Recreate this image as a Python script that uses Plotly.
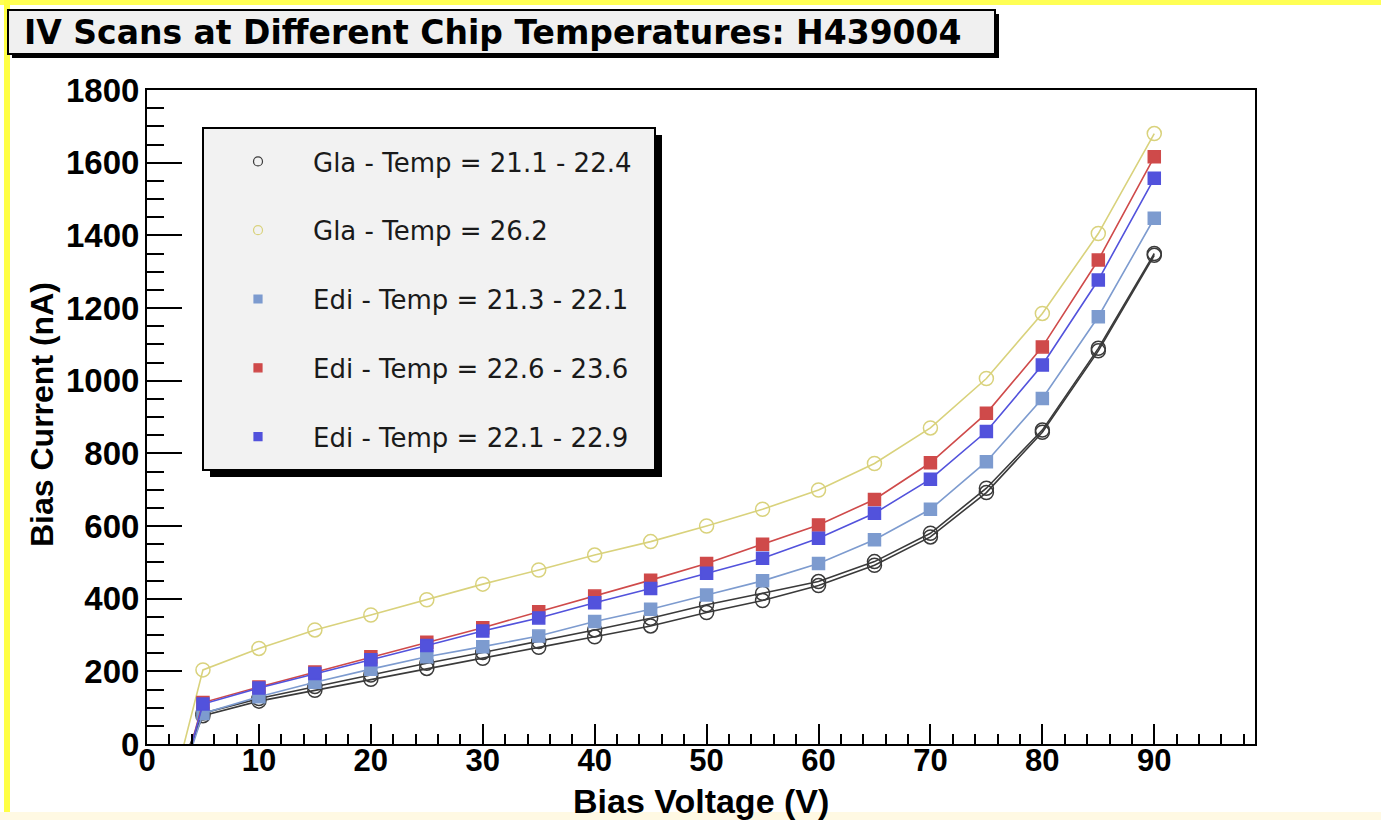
import plotly.graph_objects as go

# ---------------- data ----------------
voltage = [0, 5, 10, 15, 20, 25, 30, 35, 40, 45, 50, 55, 60, 65, 70, 75, 80, 85, 90]

gla_21_lo = [-300, 78, 118, 148, 178, 208, 236, 266, 295, 325, 362, 395, 436, 492, 570, 692, 858, 1082, 1345]
gla_21_hi = [-290, 85, 125, 158, 190, 222, 252, 282, 314, 346, 383, 415, 447, 502, 580, 704, 864, 1089, 1350]
gla_26 = [-400, 204, 263, 314, 355, 397, 440, 479, 520, 557, 600, 646, 699, 772, 870, 1006, 1185, 1405, 1680]
edi_213 = [-390, 84, 130, 170, 206, 240, 268, 297, 337, 371, 410, 449, 497, 562, 646, 777, 951, 1176, 1447]
edi_226 = [-440, 114, 157, 198, 240, 280, 320, 364, 407, 451, 497, 550, 603, 673, 774, 910, 1093, 1332, 1616]
edi_221 = [-440, 110, 154, 194, 232, 271, 311, 347, 389, 428, 470, 511, 566, 635, 729, 860, 1043, 1277, 1557]

names = ["Gla - Temp = 21.1 - 22.4", "Gla - Temp = 26.2", "Edi - Temp = 21.3 - 22.1",
         "Edi - Temp = 22.6 - 23.6", "Edi - Temp = 22.1 - 22.9"]

title_text = "IV Scans at Different Chip Temperatures: H439004"
x_title = "Bias Voltage (V)"
y_title = "Bias Current (nA)"

# ---------------- styles ----------------
C_BLACK = "#3a3a3a"
C_YEL = "#d9d27c"
C_LBLUE = "#7d9bcf"
C_RED = "#cf4a4a"
C_BLUE = "#5252dc"

W_FIG, H_FIG = 1381, 820
L, R, T, B = 147, 1255, 90, 744
PW, PH = R - L, B - T


def px(x):
    return (x - L) / PW


def py(y):
    return (B - y) / PH


fig = go.Figure()

series = [
    (gla_21_lo, C_BLACK, "circle-open", 14),
    (gla_21_hi, C_BLACK, "circle-open", 14),
    (gla_26, C_YEL, "circle-open", 14),
    (edi_213, C_LBLUE, "square", 12),
    (edi_226, C_RED, "square", 12),
    (edi_221, C_BLUE, "square", 12),
]
for ys, col, sym, sz in series:
    fig.add_trace(go.Scatter(
        x=voltage, y=ys, mode="lines+markers", showlegend=False,
        line=dict(color=col, width=1.6),
        marker=dict(symbol=sym, size=sz, color=col, line=dict(color=col, width=1.5)),
    ))

leg_styles = [
    (C_BLACK, "circle-open", 9),
    (C_YEL, "circle-open", 9),
    (C_LBLUE, "square", 8),
    (C_RED, "square", 8),
    (C_BLUE, "square", 8),
]
for i, (nm, (col, sym, sz)) in enumerate(zip(names, leg_styles)):
    fig.add_trace(go.Scatter(
        x=[None], y=[None], mode="markers", name=nm, legendgroup=f"g{i}",
        marker=dict(symbol=sym, size=sz, color=col, line=dict(color=col, width=1.2)),
    ))

shapes = []
# page decorations
shapes.append(dict(type="rect", xref="paper", yref="paper", x0=px(0), x1=px(W_FIG), y0=py(0), y1=py(5),
                   fillcolor="#ffff55", line=dict(width=0), layer="below"))
shapes.append(dict(type="rect", xref="paper", yref="paper", x0=px(4), x1=px(10), y0=py(0), y1=py(812),
                   fillcolor="#ffff44", line=dict(width=0), layer="below"))
shapes.append(dict(type="rect", xref="paper", yref="paper", x0=px(0), x1=px(W_FIG), y0=py(812), y1=py(820),
                   fillcolor="#fff9e3", line=dict(width=0), layer="below"))
# title box with shadow
shapes.append(dict(type="rect", xref="paper", yref="paper", x0=px(12), x1=px(999), y0=py(14), y1=py(58),
                   fillcolor="black", line=dict(width=0), layer="above"))
shapes.append(dict(type="rect", xref="paper", yref="paper", x0=px(8), x1=px(995), y0=py(10), y1=py(54),
                   fillcolor="#f0f0f0", line=dict(color="black", width=2), layer="above"))
# legend box with shadow
shapes.append(dict(type="rect", xref="paper", yref="paper", x0=px(210), x1=px(662), y0=py(135), y1=py(477),
                   fillcolor="black", line=dict(width=0), layer="above"))
shapes.append(dict(type="rect", xref="paper", yref="paper", x0=px(203), x1=px(655), y0=py(128), y1=py(470),
                   fillcolor="#f2f2f2", line=dict(color="black", width=2), layer="above"))

annotations = [
    dict(text=title_text, xref="paper", yref="paper", x=px(22), y=py(32), xanchor="left", yanchor="middle",
         showarrow=False, font=dict(family="DejaVu Sans", size=33, color="black", weight="bold")),
    dict(text=x_title, xref="paper", yref="paper", x=px(701), y=py(801), xanchor="center", yanchor="middle",
         showarrow=False, font=dict(family="Liberation Sans", size=34, color="black", weight="bold")),
    dict(text=y_title, xref="paper", yref="paper", x=px(42), y=py(415), xanchor="center", yanchor="middle",
         textangle=-90, showarrow=False,
         font=dict(family="Liberation Sans", size=32, color="black", weight="bold")),
]

axis_common = dict(
    showgrid=False, zeroline=False, showline=True, linecolor="black", linewidth=2, mirror=True,
    ticks="inside", tickcolor="black", tickwidth=2,
)

fig.update_layout(
    width=W_FIG, height=H_FIG, autosize=False,
    margin=dict(l=L, r=W_FIG - R, t=T, b=H_FIG - B),
    paper_bgcolor="white", plot_bgcolor="white",
    xaxis=dict(range=[0, 99], dtick=10, tick0=0, ticklen=20, ticklabelstandoff=-12,
               tickfont=dict(family="Liberation Sans", size=31, color="black", weight="bold"),
               minor=dict(dtick=2, ticklen=10, ticks="inside", tickcolor="black", tickwidth=1.5),
               **axis_common),
    yaxis=dict(range=[0, 1800], dtick=200, tick0=0, ticklen=35, ticklabelstandoff=-1,
               tickfont=dict(family="Liberation Sans", size=33, color="black", weight="bold"),
               minor=dict(dtick=50, ticklen=17, ticks="inside", tickcolor="black", tickwidth=1.5),
               **axis_common),
    shapes=shapes,
    annotations=annotations,
    legend=dict(x=px(203), y=py(138), xanchor="left", yanchor="top",
                bgcolor="rgba(0,0,0,0)", borderwidth=0,
                font=dict(family="DejaVu Sans", size=26, color="#1a1a1a"),
                itemwidth=100, tracegroupgap=32, traceorder="grouped"),
)

fig.write_html("out.html")
